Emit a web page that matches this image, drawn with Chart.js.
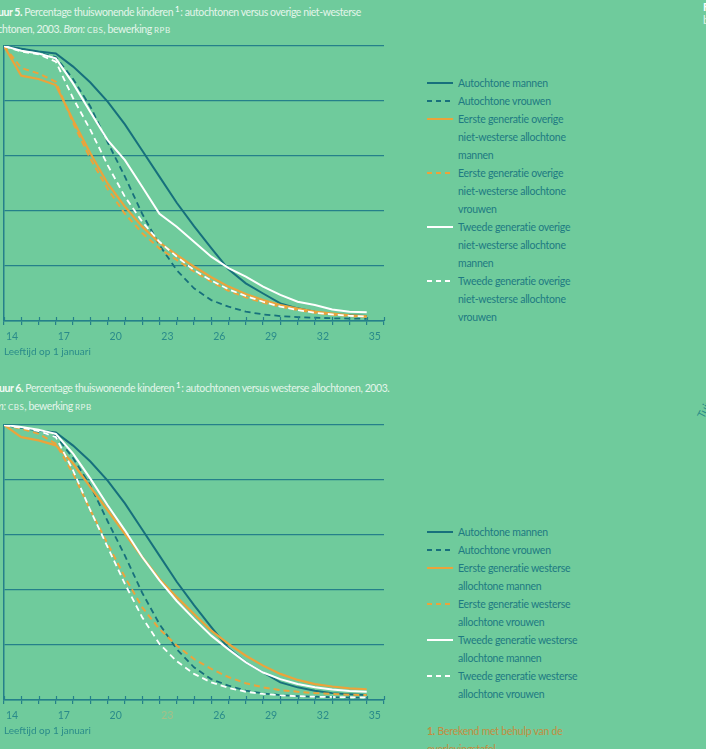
<!DOCTYPE html>
<html><head><meta charset="utf-8">
<script src="https://cdn.jsdelivr.net/npm/chart.js@4/dist/chart.umd.min.js"></script>
<style>
html,body{margin:0;padding:0;}
body{width:706px;height:749px;background:#6fcb9c;position:relative;overflow:hidden;font-family:Lato,"Open Sans",sans-serif;}
.t{position:absolute;white-space:nowrap;font-size:10.5px;letter-spacing:-0.42px;color:#e3f5ea;line-height:18px;}
.t b{font-weight:700;color:#f4fbf6;}
.t sup{font-size:8px;color:#ffffff;vertical-align:top;position:relative;top:-3px;margin:0 1px 0 2px;}
.sc{font-variant:small-caps;letter-spacing:0.5px;font-size:11px;}
.wrap{position:absolute;left:0;width:400px;height:330px;}
.leg{position:absolute;left:427px;font-size:10.5px;letter-spacing:-0.25px;color:#1e7a82;line-height:18px;white-space:nowrap;}
.row{position:relative;padding-left:31px;}
.row svg{position:absolute;left:0;top:7px;}
.foot{position:absolute;left:427px;top:722px;font-size:10.5px;letter-spacing:-0.25px;line-height:18px;color:#c38d3f;white-space:nowrap;}
.edge{position:absolute;white-space:nowrap;font-size:11px;}
</style>
</head>
<body>
<div class="t" id="t1a" style="top:3px"><b>Figuur 5.</b> <span id="m1a">Percentage</span> thuiswonende kinderen<sup>1</sup>: autochtonen versus overige niet-westerse</div>
<div class="t" id="t1b" style="top:20px">allochtonen, 2003. <i id="m1b">Bron:</i> <span class="sc">cbs</span>, bewerking <span class="sc">rpb</span></div>
<div class="wrap" style="top:40px"><canvas id="c1" width="400" height="330"></canvas></div>
<div class="leg" id="leg1" style="top:74px"></div>

<div class="t" id="t2a" style="top:379px"><b>Figuur 6.</b> <span id="m2a">Percentage</span> thuiswonende kinderen<sup>1</sup>: autochtonen versus westerse allochtonen, 2003.</div>
<div class="t" id="t2b" style="top:397px"><i>Bron:</i> <span class="sc" id="m2b">cbs</span>, bewerking <span class="sc">rpb</span></div>
<div class="wrap" style="top:419px"><canvas id="c2" width="400" height="330"></canvas></div>
<div class="leg" id="leg2" style="top:523px"></div>
<div class="foot"><b>1.</b> Berekend met behulp van de<br>overlevingstafel</div>

<div class="edge" style="left:703px;top:0px;color:#fff;font-weight:700">F</div>
<div class="edge" style="left:703px;top:13px;color:#e3f5ea">b</div>
<div class="edge" style="left:694px;top:414px;color:#2a8a88;transform:rotate(-62deg);transform-origin:left top">Tuin E</div>

<script>
// ---- data ----
const ages = [14,15,16,17,18,19,20,21,22,23,24,25,26,27,28,29,30,31,32,33,34,35];
const xTickLabels = [14,17,20,23,26,29,32,35];

const autMan   = [100,99,98,97.3,92.5,86.7,79.8,71.5,62,52.5,43,34.5,26.5,18.8,13.7,10,6.4,4.6,3.4,2.5,2.1,1.8];
const autVrouw = [100,99,97.5,96,88,78,65,52.5,39,27.6,18.5,11.9,7.6,5.2,3.4,2.4,1.8,1.4,1.2,1.0,0.9,0.8];

const nw1Man   = [100,89.2,88,85.8,73,61,50,41.6,34.3,28.5,24,19.8,15.9,12.5,9.8,7.6,5.8,4.5,3.4,2.7,2.1,1.7];
const nw1Vrouw = [100,92,90,87,72,59,48,39,32,26.4,22.2,18,14.3,11,8.6,6.7,5.2,4,3,2.3,1.8,1.5];
const nw2Man   = [100,98.3,97.3,95.5,86.4,76,65.8,58.5,48.8,39,34.3,28.8,23.4,19.2,16.1,12.5,9.5,7,5.8,4.2,3.4,3.2];
const nw2Vrouw = [100,98,97,94.3,81,69.5,56.7,45.2,36.1,28.8,23.4,18.5,14.7,11.5,9.1,7,5.2,4,3,2.4,1.9,1.6];

const w1Man    = [100,95.6,94.4,92.6,86,77.4,69,60.4,52,44,37.4,31.3,25.2,20.4,16.1,12.5,9.5,7.3,5.8,4.9,4.2,3.9];
const w1Vrouw  = [100,98.7,96.8,93.2,82.3,69,56.8,44.7,33.7,25.8,19.8,14.9,11.3,8.3,6.1,4.6,3.6,3,2.5,2.2,1.9,1.8];
const w2Man    = [100,99.3,98.3,96.8,89.6,80.5,70.8,61.7,52,43.5,36,29.5,23.4,18.4,13.7,10,7.6,5.8,4.6,3.8,3.3,3.0];
const w2Vrouw  = [100,99,97.8,95.6,83.5,69,55.6,42.2,30.1,20.4,14.1,9.5,6.4,4.4,3,2.2,1.7,1.4,1.2,1.1,1.0,0.9];

const labels1 = [
  ['Autochtone mannen'],
  ['Autochtone vrouwen'],
  ['Eerste generatie overige','niet-westerse allochtone','mannen'],
  ['Eerste generatie overige','niet-westerse allochtone','vrouwen'],
  ['Tweede generatie overige','niet-westerse allochtone','mannen'],
  ['Tweede generatie overige','niet-westerse allochtone','vrouwen']
];
const labels2 = [
  ['Autochtone mannen'],
  ['Autochtone vrouwen'],
  ['Eerste generatie westerse','allochtone mannen'],
  ['Eerste generatie westerse','allochtone vrouwen'],
  ['Tweede generatie westerse','allochtone mannen'],
  ['Tweede generatie westerse','allochtone vrouwen']
];

// ---- styles ----
const TEAL = '#17707c', ORANGE = '#eba33b', WHITE = '#ffffff';
const GRID = '#25808a', TICKTXT = '#2a8b8a';
const styles = [
  {c:TEAL, dash:[], w:2},
  {c:TEAL, dash:[6,4], w:1.8},
  {c:ORANGE, dash:[], w:2.2},
  {c:ORANGE, dash:[6,4], w:2},
  {c:WHITE, dash:[], w:2},
  {c:WHITE, dash:[6,4], w:1.8}
];

function positionText(divId, markerId, x){
  const d = document.getElementById(divId), m = document.getElementById(markerId);
  d.style.left = '0px';
  d.style.left = (x - m.offsetLeft) + 'px';
}

const tickExt = {
  id:'tickExt',
  afterDraw(chart){
    const s = chart.scales.x, a = chart.chartArea, ctx = chart.ctx;
    ctx.save();
    ctx.strokeStyle = GRID; ctx.lineWidth = 1.2;
    for (let v = s.min; v <= s.max; v++){
      const x = Math.round(s.getPixelForValue(v)) + 0.5;
      ctx.beginPath(); ctx.moveTo(x, a.bottom - 4); ctx.lineTo(x, a.bottom); ctx.stroke();
    }
    ctx.restore();
  }
};

function makeChart(id, series, labels, faint){
  const datasets = series.map((arr, i) => ({
    label: labels[i].join(' '),
    data: ages.map((a, j) => ({x:a, y:arr[j]})),
    borderColor: styles[i].c,
    borderDash: styles[i].dash,
    borderWidth: styles[i].w,
    pointRadius: 0,
    tension: 0,
    fill: false
  }));
  const order = [5,4,3,2,1,0];
  datasets.forEach((d, i) => d.order = order[i]);
  return new Chart(document.getElementById(id), {
    type: 'line',
    data: {datasets},
    plugins: [tickExt],
    options: {
      responsive: false,
      animation: false,
      events: [],
      layout: {padding: {top: 6, right: 16, left: 0, bottom: 0}},
      plugins: {legend: {display: false}, tooltip: {enabled: false}},
      scales: {
        x: {
          type: 'linear', min: 14, max: 36,
          afterFit: s => { s.height = 49; s.paddingLeft = 0; s.paddingRight = 0; },
          ticks: {
            stepSize: 1, autoSkip: false, maxRotation: 0, labelOffset: 8, padding: 5,
            callback: v => xTickLabels.includes(v) ? String(v) : '',
            color: c => (faint && c.tick && c.tick.value === faint) ? 'rgba(236,176,112,0.45)' : TICKTXT,
            font: {family: 'Lato', size: 10.5}
          },
          grid: {display: true, drawOnChartArea: false, drawTicks: true, tickLength: 4, color: GRID, lineWidth: 1.2},
          border: {display: true, color: GRID, width: 1.5},
          title: {display: true, text: 'Leeftijd op 1 januari', align: 'start', color: TICKTXT,
                  font: {family: 'Lato', size: 10}, padding: {top: 0, bottom: 12}}
        },
        y: {
          min: 0, max: 100,
          afterFit: s => { s.width = 4; },
          ticks: {stepSize: 20, display: false},
          grid: {color: GRID, lineWidth: 1.2, drawTicks: false},
          border: {display: true, color: GRID, width: 1.5}
        }
      }
    }
  });
}

function buildLegend(divId, labels){
  const div = document.getElementById(divId);
  labels.forEach((lines, i) => {
    const st = styles[i];
    const row = document.createElement('div');
    row.className = 'row';
    const dash = st.dash.length ? 'stroke-dasharray="5,4"' : '';
    row.innerHTML = `<svg width="26" height="4"><line x1="0" y1="2" x2="26" y2="2" stroke="${st.c}" stroke-width="2" ${dash}/></svg>` + lines.join('<br>');
    div.appendChild(row);
  });
}

makeChart('c1', [autMan, autVrouw, nw1Man, nw1Vrouw, nw2Man, nw2Vrouw], labels1, null);
makeChart('c2', [autMan, autVrouw, w1Man, w1Vrouw, w2Man, w2Vrouw], labels2, 23);
buildLegend('leg1', labels1);
buildLegend('leg2', labels2);

positionText('t1a', 'm1a', 24);
positionText('t1b', 'm1b', 64);
positionText('t2a', 'm2a', 25);
positionText('t2b', 'm2b', 7.5);
</script>
</body></html>
